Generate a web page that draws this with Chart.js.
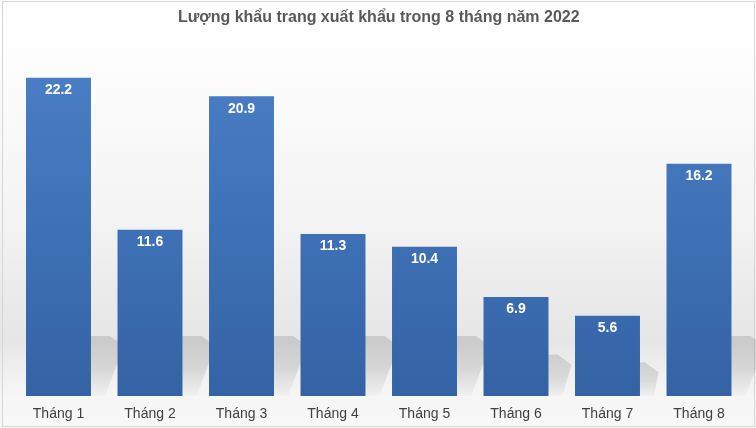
<!DOCTYPE html>
<html><head><meta charset="utf-8">
<script src="https://cdn.jsdelivr.net/npm/chart.js@4/dist/chart.umd.min.js"></script>
<style>html,body{margin:0;padding:0;background:#fff;}#wrap{width:756px;height:428px;position:relative;}</style>
</head><body><div id="wrap"><canvas id="c" width="756" height="428"></canvas></div>
<script>
const categories = ["Tháng 1","Tháng 2","Tháng 3","Tháng 4","Tháng 5","Tháng 6","Tháng 7","Tháng 8"];
const values = [22.2, 11.6, 20.9, 11.3, 10.4, 6.9, 5.6, 16.2];
const titleText = "Lượng khẩu trang xuất khẩu trong 8 tháng năm 2022";

const bgPlugin = {
  id: 'bg',
  beforeDraw(chart) {
    const ctx = chart.ctx;
    ctx.save();
    const g = ctx.createLinearGradient(0, 0, 0, 428);
    g.addColorStop(0, '#ffffff');
    g.addColorStop(0.15, '#fdfdfd');
    g.addColorStop(0.5, '#f4f4f4');
    g.addColorStop(0.72, '#e9e9e9');
    g.addColorStop(0.8, '#e6e6e6');
    g.addColorStop(0.87, '#f0f0f0');
    g.addColorStop(0.925, '#f6f6f6');
    g.addColorStop(1, '#f8f8f8');
    ctx.fillStyle = g;
    ctx.fillRect(0, 0, 756, 428);
    ctx.strokeStyle = '#d6d6d6';
    ctx.lineWidth = 1;
    ctx.strokeRect(2.5, 1.5, 752, 425);
    ctx.restore();
  },
  beforeDatasetsDraw(chart) {
    const ctx = chart.ctx;
    const meta = chart.getDatasetMeta(0);
    ctx.save();
    meta.data.forEach(el => {
      const w = el.width, x0 = el.x - w / 2, x1 = el.x + w / 2;
      const base = el.base, h = base - el.y;
      const H = Math.min(h * 0.42, 60);
      const dx = H * 0.55;
      const g = ctx.createLinearGradient(0, base, 0, base - H);
      g.addColorStop(0, 'rgba(0,0,0,0.02)');
      g.addColorStop(0.45, 'rgba(0,0,0,0.10)');
      g.addColorStop(1, 'rgba(0,0,0,0.12)');
      ctx.fillStyle = g;
      ctx.beginPath();
      ctx.moveTo(x0 + 14, base);
      ctx.lineTo(x1 + 14, base);
      ctx.lineTo(x1 + dx, base - H + 10);
      ctx.lineTo(x1 + dx - 14, base - H);
      ctx.lineTo(x0 + dx, base - H);
      ctx.closePath();
      ctx.fill();
    });
    ctx.restore();
  },
  afterDatasetsDraw(chart) {
    const ctx = chart.ctx;
    const meta = chart.getDatasetMeta(0);
    ctx.save();
    ctx.fillStyle = '#ffffff';
    ctx.font = 'bold 14px "Liberation Sans", Arial, sans-serif';
    ctx.textAlign = 'center';
    ctx.textBaseline = 'middle';
    meta.data.forEach((el, i) => {
      ctx.fillText(values[i].toFixed(1), el.x, el.y + 12.5);
    });
    ctx.restore();
  }
};

const ctx = document.getElementById('c').getContext('2d');
new Chart(ctx, {
  type: 'bar',
  data: {
    labels: categories,
    datasets: [{
      data: values,
      borderWidth: 0,
      barPercentage: 0.71,
      categoryPercentage: 1,
      backgroundColor: (c) => {
        const ch = c.chart, a = ch.chartArea;
        if (!a) return '#4177bd';
        const base = ch.scales.y.getPixelForValue(0);
        const g = ch.ctx.createLinearGradient(0, a.top, 0, base);
        g.addColorStop(0, '#4b80c8');
        g.addColorStop(1, '#3463a5');
        return g;
      }
    }]
  },
  options: {
    responsive: false,
    animation: false,
    devicePixelRatio: 1,
    layout: { padding: { left: 12.75, right: 11.25, top: 0, bottom: 0 } },
    plugins: {
      legend: { display: false },
      tooltip: { enabled: false },
      title: {
        display: true,
        text: titleText,
        color: '#595959',
        font: { family: '"Liberation Sans", Arial, sans-serif', size: 16, weight: 'bold', lineHeight: 1.2 },
        padding: { top: 8, bottom: 10.3 }
      }
    },
    scales: {
      x: {
        grid: { display: false, drawTicks: false },
        border: { display: false },
        afterFit: (s) => { s.height = 32; },
        ticks: {
          color: '#404040',
          padding: 9.6,
          font: { family: '"Liberation Sans", Arial, sans-serif', size: 14, lineHeight: 1.2 }
        }
      },
      y: {
        display: false,
        min: 0,
        max: 25
      }
    }
  },
  plugins: [bgPlugin]
});
</script></body></html>
